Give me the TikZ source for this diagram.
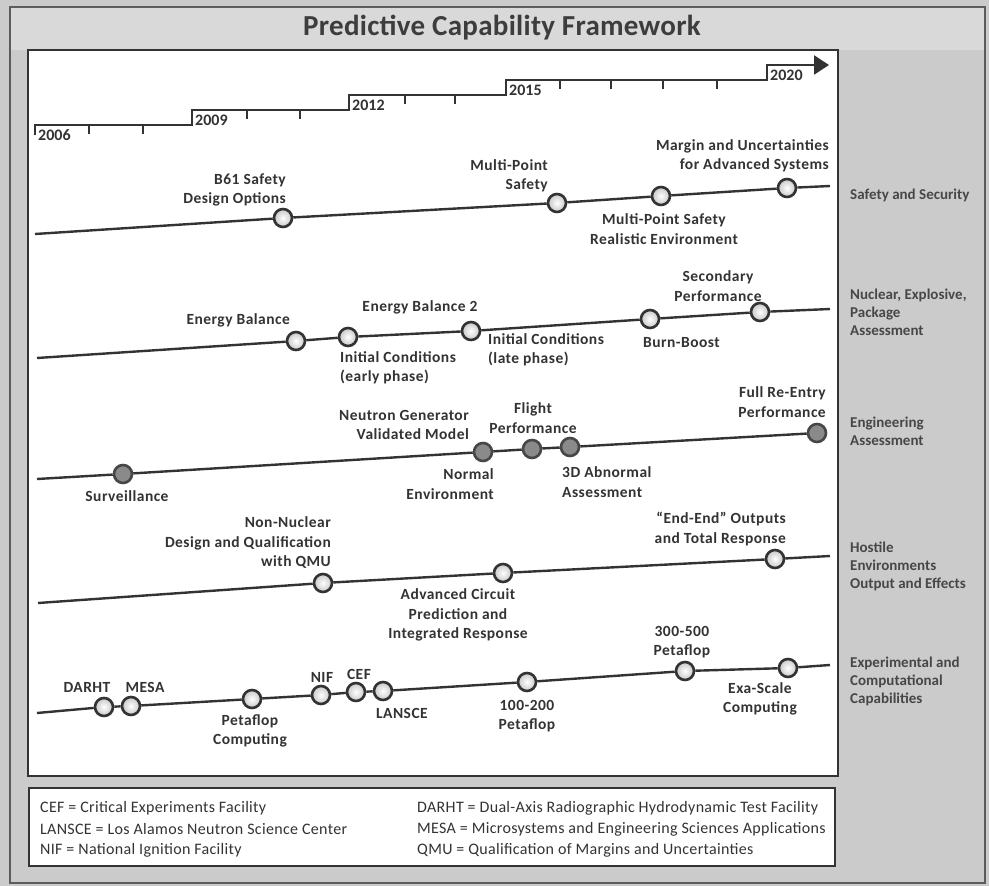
\documentclass[tikz,border=0pt]{standalone}
\usepackage{fontspec}
\setmainfont{Carlito}
\usetikzlibrary{arrows.meta}
\definecolor{ink}{HTML}{333333}
\definecolor{bggrey}{HTML}{CBCBCB}
\definecolor{bandgrey}{HTML}{D9D9D9}
\definecolor{darkfill}{HTML}{8A8A8A}
\begin{document}
\begin{tikzpicture}[x=1pt,y=-1pt,
  ms/.style={circle, draw=ink, line width=2.6pt, minimum size=18pt, inner sep=0pt, inner color=white, outer color=black!22},
  msd/.style={circle, draw=ink!90, line width=2.6pt, minimum size=18pt, inner sep=0pt, fill=darkfill},
  trk/.style={line width=2.4pt, draw=ink},
  lbl/.style={font=\bfseries\fontsize{15.5}{19.5}\selectfont\addfontfeature{LetterSpace=3}, text=ink, inner sep=0pt},
  cat/.style={font=\bfseries\fontsize{15}{18}\selectfont, text=ink!90, align=left, anchor=west, inner sep=0pt},
  yr/.style={font=\bfseries\fontsize{16}{18}\selectfont, text=ink, anchor=west, inner sep=0pt},
  leg/.style={font=\fontsize{16}{18}\selectfont\addfontfeature{LetterSpace=2}, text=ink, anchor=west, inner sep=0pt},
  tick/.style={line width=2pt, draw=ink}
]
\useasboundingbox (0,0) rectangle (989,886);
% backgrounds
\fill[bggrey] (0,0) rectangle (989,886);
\fill[bandgrey] (10,7) rectangle (985,50);
\draw[ink!80, line width=1.5pt] (10,7) rectangle (985,883);
\node[font=\bfseries\fontsize{29}{32}\selectfont\addfontfeature{LetterSpace=1}, text=ink!95, inner sep=0pt] (title) at (502,28) {Predictive Capability Framework};
% main panel
\node[draw=ink, line width=2.5pt, fill=white, minimum width=810pt, minimum height=726pt, inner sep=0pt] (panel) at (433,413) {};
% legend box
\node[draw=ink, line width=2.5pt, fill=white, minimum width=806pt, minimum height=78pt, inner sep=0pt] (legbox) at (432,827) {};

% time steps
\draw[trk, -{Triangle[length=15pt,width=19pt]}] (35,135) -- (35,125) -- (192,125) -- (192,110) -- (349,110) -- (349,95) -- (506,95) -- (506,80) -- (767,80) -- (767,65) -- (829,65);
\foreach \x/\y in {89/125, 143/125, 247/110, 300/110, 405/95, 455/95, 560/80, 611/80, 663/80, 717/80}
  \draw[tick] (\x,\y) -- ++(0,9);
\node[yr] (y06) at (38,135) {2006};
\node[yr] (y09) at (195,120) {2009};
\node[yr] (y12) at (352,105) {2012};
\node[yr] (y15) at (509,90) {2015};
\node[yr] (y20) at (770,75) {2020};

% Row 1: Safety and Security
\coordinate (a1) at (35,234);
\coordinate (b1) at (830,186);
\node[ms] (c11) at (283,218) {};
\node[ms] (c12) at (557,203) {};
\node[ms] (c13) at (661,196) {};
\node[ms] (c14) at (787,188) {};
\draw[trk] (a1) -- (c11) -- (c12) -- (c13) -- (c14) -- (b1);
\node[lbl, align=right, anchor=east] (l11) at (286,190) {B61 Safety\\Design Options};
\node[lbl, align=right, anchor=east] (l12) at (548,176) {Multi-Point\\Safety};
\node[lbl, align=right, anchor=east] (l14) at (829,156) {Margin and Uncertainties\\for Advanced Systems};
\node[lbl, align=center] (l13) at (664,229) {Multi-Point Safety\\Realistic Environment};

% Row 2: Nuclear
\coordinate (a2) at (37,358);
\coordinate (b2) at (830,309);
\node[ms] (c21) at (296,341) {};
\node[ms] (c22) at (348,337) {};
\node[ms] (c23) at (471,331) {};
\node[ms] (c24) at (650,319) {};
\node[ms] (c25) at (760,312) {};
\draw[trk] (a2) -- (c21) -- (c22) -- (c23) -- (c24) -- (c25) -- (b2);
\node[lbl, anchor=east] (l21) at (290,320) {Energy Balance};
\node[lbl] (l23) at (420,307) {Energy Balance 2};
\node[lbl, align=left, anchor=west] (l22) at (340,368) {Initial Conditions\\(early phase)};
\node[lbl, align=left, anchor=west] (l23b) at (488,350) {Initial Conditions\\(late phase)};
\node[lbl, anchor=west] (l24) at (643,343) {Burn-Boost};
\node[lbl, align=center] (l25) at (718,286) {Secondary\\Performance};

% Row 3: Engineering
\coordinate (a3) at (37,479);
\node[msd] (c31) at (123,474) {};
\node[msd] (c32) at (483,452) {};
\node[msd] (c33) at (532,449) {};
\node[msd] (c34) at (570,447) {};
\node[msd] (c35) at (817,433) {};
\draw[trk] (a3) -- (c31) -- (c32) -- (c33) -- (c34) -- (c35);
\node[lbl, align=right, anchor=east] (l32a) at (469,425) {Neutron Generator\\Validated Model};
\node[lbl] (l31) at (127,496) {Surveillance};
\node[lbl, align=right, anchor=east] (l32) at (494,484) {Normal\\Environment};
\node[lbl, align=center] (l33) at (533,418) {Flight\\Performance};
\node[lbl, align=left, anchor=west] (l34) at (562,482) {3D Abnormal\\Assessment};
\node[lbl, align=right, anchor=east] (l35) at (826,402) {Full Re-Entry\\Performance};

% Row 4: Hostile
\coordinate (a4) at (38,603);
\coordinate (b4) at (830,556);
\node[ms] (c41) at (323,583) {};
\node[ms] (c42) at (503,573) {};
\node[ms] (c43) at (775,559) {};
\draw[trk] (a4) -- (c41) -- (c42) -- (c43) -- (b4);
\node[lbl, align=right, anchor=east] (l41) at (331,543) {Non-Nuclear\\Design and Qualification\\with QMU};
\node[lbl, align=center] (l42) at (458,615) {Advanced Circuit\\Prediction and\\Integrated Response};
\node[lbl, align=right, anchor=east] (l43) at (786,529) {“End-End” Outputs\\and Total Response};

% Row 5: Experimental
\coordinate (a5) at (37,713);
\coordinate (b5) at (830,665);
\node[ms] (c51) at (104,707) {};
\node[ms] (c52) at (131,706) {};
\node[ms] (c53) at (252,699) {};
\node[ms] (c54) at (321,695) {};
\node[ms] (c55) at (356,692) {};
\node[ms] (c56) at (383,691) {};
\node[ms] (c57) at (527,682) {};
\node[ms] (c58) at (685,671) {};
\node[ms] (c59) at (788,668) {};
\draw[trk] (a5) -- (c51) -- (c52) -- (c53) -- (c54) -- (c55) -- (c56) -- (c57) -- (c58) -- (c59) -- (b5);
\node[lbl] (l51) at (87,687) {DARHT};
\node[lbl] (l52) at (145,687) {MESA};
\node[lbl, align=center] (l53) at (250,731) {Petaflop\\Computing};
\node[lbl] (l54) at (322,677) {NIF};
\node[lbl] (l55) at (359,674) {CEF};
\node[lbl, anchor=west] (l56) at (376,713) {LANSCE};
\node[lbl, align=center] (l57) at (527,716) {100-200\\Petaflop};
\node[lbl, align=center] (l58) at (682,642) {300-500\\Petaflop};
\node[lbl, align=center] (l59) at (760,699) {Exa-Scale\\Computing};

% category labels
\node[cat] (k1) at (850,195) {Safety and Security};
\node[cat] (k2) at (850,312) {Nuclear, Explosive,\\Package\\Assessment};
\node[cat] (k3) at (850,431) {Engineering\\Assessment};
\node[cat] (k4) at (850,566) {Hostile\\Environments\\Output and Effects};
\node[cat] (k5) at (850,681) {Experimental and\\Computational\\Capabilities};

% legend
\node[leg] (g1) at (40,808) {CEF = Critical Experiments Facility};
\node[leg] (g2) at (40,829) {LANSCE = Los Alamos Neutron Science Center};
\node[leg] (g3) at (40,850) {NIF = National Ignition Facility};
\node[leg] (g4) at (417,808) {DARHT = Dual-Axis Radiographic Hydrodynamic Test Facility};
\node[leg] (g5) at (417,829) {MESA = Microsystems and Engineering Sciences Applications};
\node[leg] (g6) at (417,850) {QMU = Qualification of Margins and Uncertainties};
\end{tikzpicture}
\end{document}
